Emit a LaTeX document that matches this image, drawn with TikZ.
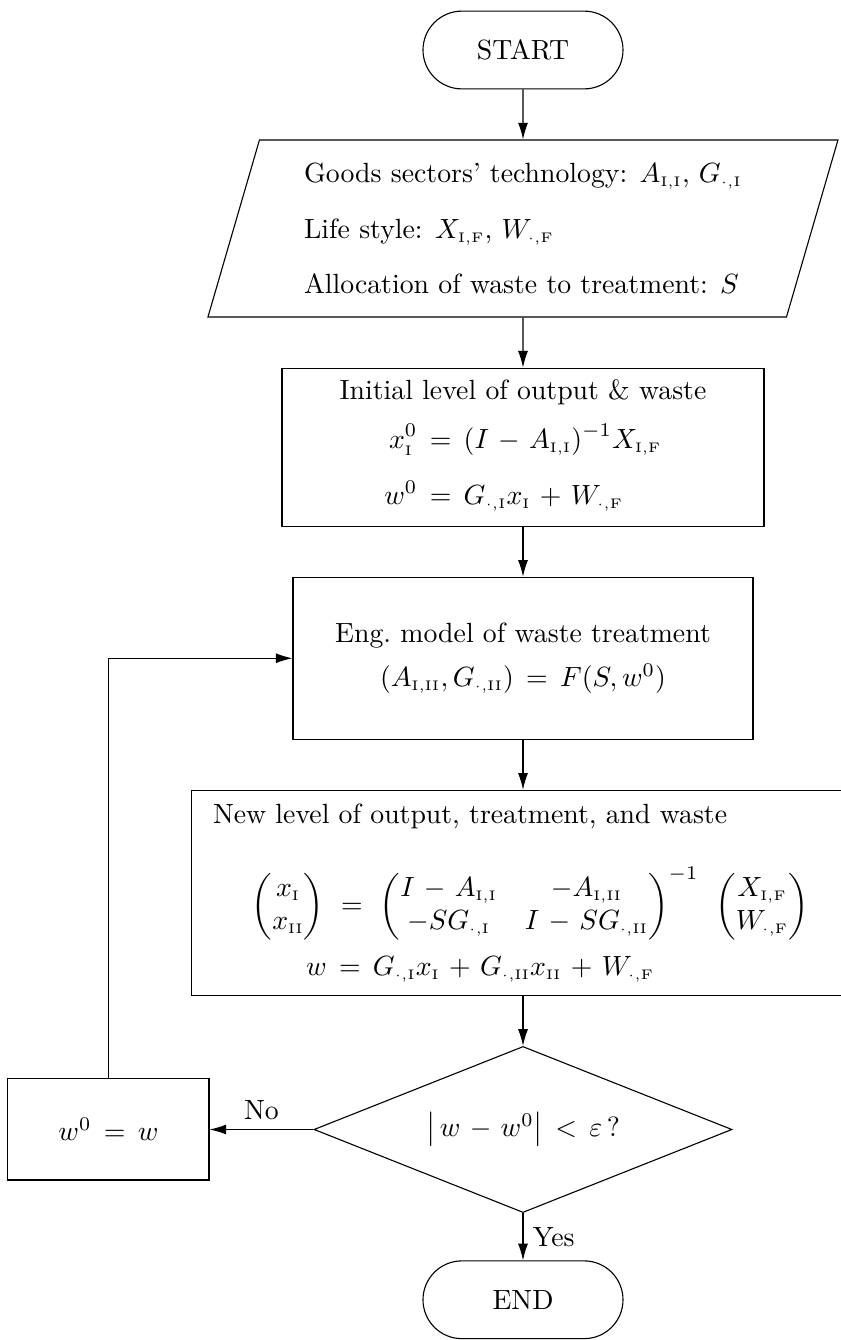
\documentclass[tikz,border=0pt]{standalone}
\usepackage{tikz}
\usepackage{amsmath}
\usetikzlibrary{shapes.geometric, arrows.meta, positioning}
\newcommand{\ssub}[1]{{\scriptscriptstyle\mathrm{#1}}}
\thickmuskip=8mu plus 5mu
\medmuskip=6mu plus 2mu minus 4mu
\tikzstyle{terminal} = [rectangle, rounded corners=14pt, minimum width=72pt, minimum height=28pt, text centered, draw=black]
\tikzstyle{io} = [trapezium, trapezium left angle=71, trapezium right angle=109, trapezium stretches body, minimum width=226.8pt, minimum height=63.7pt, draw=black, align=left]
\tikzstyle{process} = [rectangle, draw=black, align=center]
\tikzstyle{decision} = [diamond, aspect=2.5, draw=black, minimum width=150.5pt, minimum height=59.8pt, inner sep=0pt]
\tikzstyle{arrow} = [-{Latex[length=6pt,width=3.6pt]}]

\begin{document}
\begin{tikzpicture}[node distance=18pt]
    \useasboundingbox (0,0) rectangle (302.76pt,-482.4pt);
    \node[terminal] (start) at (188.28pt,-18pt) {START};
    \node[io, below=of start] (input) {Goods sectors' technology: $A_{\ssub{I,I}}$, $G_{\ssub{\cdot,I}}$\\[8pt]
        Life style: $X_{\ssub{I,F}}$, $W_{\ssub{\cdot,F}}$\\[8pt]
        Allocation of waste to treatment: $S$};
    \node[process, below=of input, minimum width=173.5pt, minimum height=56.9pt] (init) {Initial level of output \& waste\\[6pt]
        $\begin{aligned} x^0_{\ssub{I}} &= (I-A_{\ssub{I,I}})^{-1}X_{\ssub{I,F}}\\[4pt] w^0 &= G_{\ssub{\cdot,I}}x_{\ssub{I}}+W_{\ssub{\cdot,F}}\end{aligned}$};
    \node[process, below=of init, minimum width=165.6pt, minimum height=58.3pt] (eng) {Eng.\ model of waste treatment\\[4pt]
        $(A_{\ssub{I,II}},G_{\ssub{\cdot,II}})=F(S,w^0)$};
    \node[process, below=of eng, minimum width=239pt, minimum height=73.8pt, text width=223.2pt, inner xsep=7.9pt, align=left] (newlevel) {New level of output, treatment, and waste\\[13pt]
        \hspace*{14pt}$\begin{pmatrix} x_{\ssub{I}}\\ x_{\ssub{II}}\end{pmatrix}\,=\,\begin{pmatrix} I-A_{\ssub{I,I}} & -A_{\ssub{I,II}}\\ -SG_{\ssub{\cdot,I}} & I-SG_{\ssub{\cdot,II}}\end{pmatrix}^{-1}\;\begin{pmatrix} X_{\ssub{I,F}}\\ W_{\ssub{\cdot,F}}\end{pmatrix}$\\[5pt]
        \hspace*{33.5pt}$w=G_{\ssub{\cdot,I}}x_{\ssub{I}}+G_{\ssub{\cdot,II}}x_{\ssub{II}}+W_{\ssub{\cdot,F}}$};
    \node[decision, below=of newlevel] (test) {$\bigl|\,w-w^0\bigr|<\varepsilon\,$?};
    \node[terminal, below=17pt of test] (end) {END};
    \node[process, left=37.4pt of test, minimum width=72.4pt, minimum height=36.4pt] (update) {$w^0=w$};

    \draw[arrow] (start) -- (input);
    \draw[arrow] (input) -- (init);
    \draw[arrow] (init) -- (eng);
    \draw[arrow] (eng) -- (newlevel);
    \draw[arrow] (newlevel) -- (test);
    \draw[arrow] (test) -- node[right] {Yes} (end);
    \draw[arrow] (test) -- node[above] {No} (update);
    \draw[arrow] (update.north) |- (eng.west);
\end{tikzpicture}
\end{document}
